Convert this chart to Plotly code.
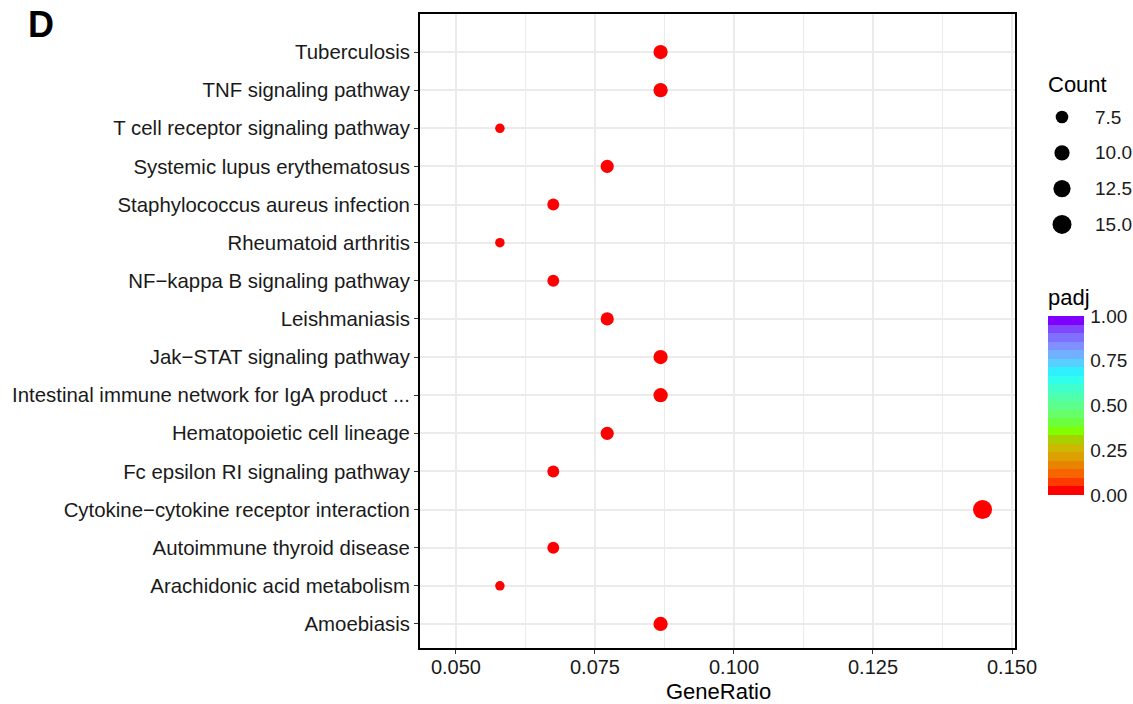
import plotly.graph_objects as go

# ---------------- data ----------------
pathways = [
    "Tuberculosis",
    "TNF signaling pathway",
    "T cell receptor signaling pathway",
    "Systemic lupus erythematosus",
    "Staphylococcus aureus infection",
    "Rheumatoid arthritis",
    "NF\u2212kappa B signaling pathway",
    "Leishmaniasis",
    "Jak\u2212STAT signaling pathway",
    "Intestinal immune network for IgA product ...",
    "Hematopoietic cell lineage",
    "Fc epsilon RI signaling pathway",
    "Cytokine\u2212cytokine receptor interaction",
    "Autoimmune thyroid disease",
    "Arachidonic acid metabolism",
    "Amoebiasis",
]
gene_ratio = [0.0868, 0.0868, 0.0579, 0.0772, 0.0675, 0.0579, 0.0675, 0.0772,
              0.0868, 0.0868, 0.0772, 0.0675, 0.1447, 0.0675, 0.0579, 0.0868]
counts = [9, 9, 6, 8, 7, 6, 7, 8, 9, 9, 8, 7, 15, 7, 6, 9]
padj = [0.0001, 0.0001, 0.002, 0.0005, 0.001, 0.003, 0.001, 0.0005,
        0.0001, 0.0001, 0.0005, 0.001, 0.00001, 0.001, 0.003, 0.0001]

size_breaks = [7.5, 10.0, 12.5, 15.0]
size_labels = ["7.5", "10.0", "12.5", "15.0"]
x_ticks = [0.050, 0.075, 0.100, 0.125, 0.150]
x_ticklabels = ["0.050", "0.075", "0.100", "0.125", "0.150"]
cbar_ticks = [0, 0.25, 0.5, 0.75, 1.0]
cbar_ticklabels = ["0.00", "0.25", "0.50", "0.75", "1.00"]

# ---------------- scales ----------------
C_MIN, C_MAX = 6, 15
D_MIN, D_MAX = 9.5, 19


def size_scale(c):
    t = max(0.0, (c - C_MIN) / (C_MAX - C_MIN))
    return D_MIN + (D_MAX - D_MIN) * t ** 0.63


bins = ["#FF0000", "#FF3A00", "#F86400", "#E88400", "#DCA000", "#CCB800",
        "#A8D000", "#80FF00", "#6CFF40", "#66FF6A", "#5CFF8C", "#50FFAC",
        "#40FFCC", "#30FFEC", "#30F0FF", "#58D0FF", "#70B0FF", "#8090FF",
        "#8070FF", "#8048FF", "#8000FF"]
n = len(bins)
colorscale = []
for i, c in enumerate(bins):
    colorscale.append([i / n, c])
    colorscale.append([(i + 1) / n, c])

FONT = "Liberation Sans, Arial, sans-serif"
W, H = 1133, 704
L, R, T, B = 420, 0, 14, 56
pw = W - L - R
ph = H - T - B
x_dom_end = (1015 - L) / pw

fig = go.Figure()

fig.add_trace(go.Scatter(
    x=gene_ratio, y=pathways, mode="markers",
    marker=dict(size=[size_scale(c) for c in counts], color=padj, opacity=1,
                cmin=0, cmax=1, colorscale=colorscale,
                line=dict(width=0),
                colorbar=dict(
                    x=(1048 - L) / pw, xanchor="left", xpad=0, ypad=0,
                    y=(648 - 405.5) / ph, yanchor="middle",
                    len=179, lenmode="pixels", thickness=36,
                    outlinewidth=0, tickvals=cbar_ticks, ticktext=cbar_ticklabels,
                    ticks="outside", ticklen=3, tickcolor="rgba(0,0,0,0)",
                    tickfont=dict(family=FONT, size=19, color="#1a1a1a"),
                )),
    showlegend=False, hoverinfo="x+y",
    xaxis="x", yaxis="y",
))

# size legend (on its own hidden axes)
leg_y = [117 + 35.8 * i for i in range(len(size_breaks))]
fig.add_trace(go.Scatter(
    x=[12] * len(size_breaks), y=leg_y, mode="markers",
    marker=dict(size=[size_scale(s) for s in size_breaks], color="black",
                opacity=1, line=dict(width=0)),
    showlegend=False, hoverinfo="skip", xaxis="x2", yaxis="y2",
))

annotations = []
for s, lab, yy in zip(size_breaks, size_labels, leg_y):
    annotations.append(dict(x=43, y=yy, xref="x2", yref="y2", text=lab,
                            showarrow=False, xanchor="left", yanchor="middle",
                            font=dict(family=FONT, size=19, color="#1a1a1a")))
annotations += [
    dict(x=(1046 - L) / pw, y=(648 - 85) / ph, xref="paper", yref="paper",
         text="Count", showarrow=False, xanchor="left", yanchor="middle",
         font=dict(family=FONT, size=22, color="black")),
    dict(x=(1046 - L) / pw, y=(648 - 297) / ph, xref="paper", yref="paper",
         text="padj", showarrow=False, xanchor="left", yanchor="middle",
         font=dict(family=FONT, size=22, color="black")),
    dict(x=(26 - L) / pw, y=(648 - 24) / ph, xref="paper", yref="paper",
         text="<b>D</b>", showarrow=False, xanchor="left", yanchor="middle",
         font=dict(family=FONT, size=36, color="black")),
    dict(x=(718 - L) / pw, y=(648 - 691) / ph, xref="paper", yref="paper",
         text="GeneRatio", showarrow=False, xanchor="center", yanchor="middle",
         font=dict(family=FONT, size=22, color="black")),
]

grid = "#EBEBEB"
fig.update_layout(
    width=W, height=H,
    margin=dict(l=L, r=R, t=T, b=B, pad=0, autoexpand=False),
    paper_bgcolor="white", plot_bgcolor="white",
    font=dict(family=FONT, color="black"),
    xaxis=dict(domain=[0, x_dom_end], range=[0.04353, 0.15054],
               tickvals=x_ticks, ticktext=x_ticklabels,
               ticks="outside", ticklen=4, tickcolor="#333333", tickwidth=1,
               ticklabelstandoff=-4,
               tickfont=dict(family=FONT, size=20, color="#1a1a1a"),
               showgrid=True, gridcolor=grid, gridwidth=1.6,
               minor=dict(dtick=0.025, tick0=0.0625, showgrid=True,
                          gridcolor=grid, gridwidth=0.8, ticks=""),
               showline=True, linecolor="black", linewidth=2, mirror=True,
               zeroline=False, fixedrange=True, automargin=False),
    yaxis=dict(domain=[0, 1], type="category",
               categoryorder="array", categoryarray=pathways[::-1],
               range=[-0.63, 15.997],
               ticks="outside", ticklen=4, tickcolor="#333333", tickwidth=1,
               tickfont=dict(family=FONT, size=20.4, color="#1a1a1a"),
               showgrid=True, gridcolor=grid, gridwidth=1.6,
               showline=True, linecolor="black", linewidth=2, mirror=True,
               zeroline=False, fixedrange=True, automargin=False),
    xaxis2=dict(domain=[(1050 - L) / pw, 1.0], range=[0, 83], visible=False,
                fixedrange=True, anchor="y2"),
    yaxis2=dict(domain=[0, 1], range=[648, 14], visible=False,
                fixedrange=True, anchor="x2"),
    annotations=annotations,
)

fig.write_html("out.html")
